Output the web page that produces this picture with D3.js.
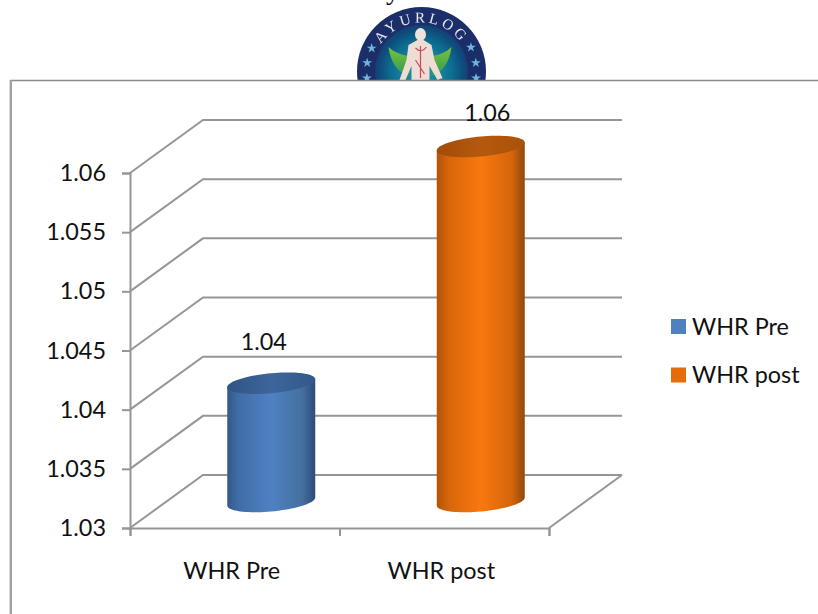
<!DOCTYPE html>
<html>
<head>
<meta charset="utf-8">
<script src="https://cdn.jsdelivr.net/npm/d3@7"></script>
<style>
    html, body { margin: 0; padding: 0; background: #fff; overflow: hidden; }
    svg { display: block; }
    text { font-family: Lato, "Open Sans", sans-serif; fill: #111; }
</style>
</head>
<body>
<div id="chart"></div>
<script>
const categories = ['WHR Pre', 'WHR post'];
const values = [1.04, 1.06];
const valueLabels = ['1.04', '1.06'];
const yTicks = [1.03, 1.035, 1.04, 1.045, 1.05, 1.055, 1.06];
const yTickLabels = ['1.03', '1.035', '1.04', '1.045', '1.05', '1.055', '1.06'];
const seriesColors = ['#4f81bd', '#e46c0a'];
const logoStarAngles = [-155, -171, 173, -26, -9, 7];

const width = 818;
const height = 614;
const gridColor = '#969696';
const fontSize = '23.4px';

const plot = { left: 130, right: 549, top: 173, bottom: 528 };
const depth = { x: 73, y: -53 };

const svg = d3.select('#chart').append('svg')
    .attr('width', width)
    .attr('height', height)
    .attr('viewBox', [0, 0, width, height]);

const defs = svg.append('defs');

const x = d3.scaleBand().domain(categories).range([plot.left, plot.right]);
const y = d3.scaleLinear().domain([1.03, 1.06]).range([plot.bottom, plot.top]);

// Cylinder shading, dark at the edges and bright in the middle
function cylinderGradient(id, stops) {
    const grad = defs.append('linearGradient').attr('id', id);
    stops.forEach(([offset, color]) => {
        grad.append('stop').attr('offset', offset).attr('stop-color', color);
    });
}
cylinderGradient('side-0', [[0, '#33598a'], [0.12, '#3f6ca6'], [0.5, '#4f81c2'], [0.85, '#44709f'], [1, '#2c4d78']]);
cylinderGradient('side-1', [[0, '#b0540a'], [0.14, '#d9660a'], [0.5, '#f9780f'], [0.85, '#d5650c'], [1, '#8f4a0c']]);
cylinderGradient('top-0', [[0, '#2f5584'], [0.5, '#3e659a'], [1, '#33598a']]);
cylinderGradient('top-1', [[0, '#a04c08'], [0.5, '#b5590e'], [1, '#a85208']]);

const logoGrad = defs.append('radialGradient').attr('id', 'logo-inner');
logoGrad.append('stop').attr('offset', 0).attr('stop-color', '#1f9bb0');
logoGrad.append('stop').attr('offset', 0.65).attr('stop-color', '#0f6f92');
logoGrad.append('stop').attr('offset', 1).attr('stop-color', '#123f73');

const leafGrad = defs.append('linearGradient').attr('id', 'logo-leaf')
    .attr('x1', 0).attr('x2', 0).attr('y1', 0).attr('y2', 1);
leafGrad.append('stop').attr('offset', 0).attr('stop-color', '#7cc23a');
leafGrad.append('stop').attr('offset', 1).attr('stop-color', '#2f9a55');

defs.append('clipPath').attr('id', 'logo-clip')
    .append('rect').attr('width', width).attr('height', 80);

defs.append('filter').attr('id', 'logo-soft')
    .append('feGaussianBlur').attr('stdDeviation', 0.45);

// Text cut off above the logo, only the tail shows
svg.append('text')
    .attr('x', 386)
    .attr('y', -1)
    .style('font-family', '"Liberation Serif", serif')
    .style('font-size', '28px')
    .text('y');

// Logo
const logo = svg.append('g').attr('clip-path', 'url(#logo-clip)')
    .append('g').attr('filter', 'url(#logo-soft)');
const logoC = { x: 421.5, y: 71.5 };
logo.append('circle').attr('cx', logoC.x).attr('cy', logoC.y).attr('r', 64.5).attr('fill', '#1d2f6b');
logo.append('circle').attr('cx', logoC.x).attr('cy', logoC.y).attr('r', 46.5).attr('fill', 'url(#logo-inner)');

defs.append('path').attr('id', 'logo-arc')
    .attr('d', `M${logoC.x - 49},${logoC.y}A49,49 0 0,1 ${logoC.x + 49},${logoC.y}`);
logo.append('text')
    .append('textPath')
    .attr('href', '#logo-arc')
    .attr('startOffset', '50%')
    .attr('text-anchor', 'middle')
    .style('font-family', '"Liberation Serif", serif')
    .style('font-size', '15px')
    .style('letter-spacing', '3.4px')
    .style('fill', '#e4e8f0')
    .text('AYURLOG');

logo.selectAll('.star')
    .data(logoStarAngles)
    .join('path')
    .attr('class', 'star')
    .attr('d', d3.symbol(d3.symbolStar, 30))
    .attr('fill', '#6fb8d8')
    .attr('transform', d => {
        const a = d * Math.PI / 180;
        return `translate(${logoC.x + 55 * Math.cos(a)},${logoC.y + 55 * Math.sin(a)})`;
    });

// Leaves either side of the figure
logo.append('path')
    .attr('d', `M${logoC.x - 33},47 C${logoC.x - 31},62 ${logoC.x - 24},73 ${logoC.x - 12},76 L${logoC.x - 12},56 C${logoC.x - 20},55 ${logoC.x - 28},52 ${logoC.x - 33},47Z`)
    .attr('fill', 'url(#logo-leaf)');
logo.append('path')
    .attr('d', `M${logoC.x + 30},47 C${logoC.x + 28},62 ${logoC.x + 21},73 ${logoC.x + 10},76 L${logoC.x + 10},56 C${logoC.x + 18},55 ${logoC.x + 25},52 ${logoC.x + 30},47Z`)
    .attr('fill', 'url(#logo-leaf)');

// Figure
logo.append('ellipse').attr('cx', logoC.x - 1).attr('cy', 34.5).attr('rx', 5.5).attr('ry', 6.5).attr('fill', '#efe3d8');
logo.append('path')
    .attr('d', `M${logoC.x - 4},40 L${logoC.x + 2},40 L${logoC.x + 10},45 L${logoC.x + 13},60 L${logoC.x + 21},78 L${logoC.x + 16},80 L${logoC.x + 8},66 L${logoC.x + 8},80 L${logoC.x - 10},80 L${logoC.x - 10},66 L${logoC.x - 16},80 L${logoC.x - 22},80 L${logoC.x - 15},60 L${logoC.x - 13},45Z`)
    .attr('fill', '#efdcd4');
logo.append('path')
    .attr('d', `M${logoC.x - 1},46 L${logoC.x - 1},78 M${logoC.x - 6},48 Q${logoC.x},54 ${logoC.x + 5},47 M${logoC.x - 6},60 L${logoC.x + 3},74`)
    .attr('stroke', '#c84a58')
    .attr('stroke-width', 1.2)
    .attr('fill', 'none');

// Outer frame, only the top and left edges are in view
svg.append('line')
    .attr('x1', 10).attr('x2', width).attr('y1', 80.5).attr('y2', 80.5)
    .attr('stroke', '#8c8c8c').attr('stroke-width', 1.6);
svg.append('line')
    .attr('x1', 10.8).attr('x2', 10.8).attr('y1', 80).attr('y2', height)
    .attr('stroke', '#a0a0a0').attr('stroke-width', 2.4);

// Walls and floor
const grid = svg.append('g')
    .attr('fill', 'none')
    .attr('stroke', gridColor)
    .attr('stroke-width', 2);

grid.selectAll('path')
    .data(yTicks)
    .join('path')
    .attr('d', d => d3.line()([
        [plot.left, y(d)],
        [plot.left + depth.x, y(d) + depth.y],
        [plot.right + depth.x, y(d) + depth.y]
    ]));

grid.append('path')
    .attr('d', d3.line()([
        [plot.right, plot.bottom],
        [plot.right + depth.x, plot.bottom + depth.y]
    ]));

// Axes
const yAxis = d3.axisLeft(y)
    .tickValues(yTicks)
    .tickFormat((d, i) => yTickLabels[i])
    .tickSize(8)
    .tickPadding(16);

const yAxisG = svg.append('g')
    .attr('transform', `translate(${plot.left},0)`)
    .call(yAxis);

const xBoundaries = [plot.left, x(categories[1]), plot.right];
const xTickScale = d3.scalePoint().domain(xBoundaries).range([plot.left, plot.right]);
const xAxisG = svg.append('g')
    .attr('transform', `translate(0,${plot.bottom})`)
    .call(d3.axisBottom(xTickScale).tickSize(8).tickFormat(''));

[yAxisG, xAxisG].forEach(g => {
    g.selectAll('.domain, .tick line').attr('stroke', gridColor).attr('stroke-width', 2);
});
yAxisG.selectAll('text').style('font-size', fontSize).style('font-family', 'Lato').attr('fill', '#111');

svg.append('g')
    .selectAll('text')
    .data(categories)
    .join('text')
    .attr('x', d => x(d) + x.bandwidth() / 2 - 3)
    .attr('y', 579)
    .attr('text-anchor', 'middle')
    .style('font-size', fontSize)
    .text(d => d);

// Cylinders sit in the middle of the floor depth
const cylW = 44;
const cylDepth = { x: depth.x / 2, y: depth.y / 2 };
const skew = -4;
const flat = 10;
const topAngles = d3.range(0, 2 * Math.PI + 0.01, Math.PI / 40);
const bottomAngles = d3.range(0, Math.PI + 0.01, Math.PI / 40);

function rim(cx, cy, t) {
    return [cx + cylW * Math.cos(t), cy + flat * Math.sin(t) + skew * Math.cos(t)];
}

const cylinders = svg.append('g')
    .selectAll('g')
    .data(values)
    .join('g');

cylinders.append('path')
    .attr('fill', (d, i) => `url(#side-${i})`)
    .attr('d', (d, i) => {
        const cx = x(categories[i]) + x.bandwidth() / 2 + cylDepth.x;
        const top = y(d) + cylDepth.y;
        const bottom = y(1.03) + cylDepth.y;
        const pts = bottomAngles.map(t => rim(cx, bottom, t));
        pts.push(rim(cx, top, Math.PI), rim(cx, top, 0));
        return d3.line()(pts) + 'Z';
    });

cylinders.append('path')
    .attr('fill', (d, i) => `url(#top-${i})`)
    .attr('d', (d, i) => {
        const cx = x(categories[i]) + x.bandwidth() / 2 + cylDepth.x;
        const top = y(d) + cylDepth.y;
        return d3.line()(topAngles.map(t => rim(cx, top, t))) + 'Z';
    });

// Value labels, the second one sits closer to its bar
svg.append('g')
    .selectAll('text')
    .data(values)
    .join('text')
    .attr('x', (d, i) => x(categories[i]) + x.bandwidth() / 2 + (i ? 43 : 29))
    .attr('y', (d, i) => y(d) - (i ? 52 : 60))
    .attr('text-anchor', 'middle')
    .style('font-size', fontSize)
    .text((d, i) => valueLabels[i]);

// Legend
const legendY = d3.scalePoint().domain(categories).range([326.5, 375]);
const legend = svg.append('g')
    .selectAll('g')
    .data(categories)
    .join('g')
    .attr('transform', d => `translate(671,${legendY(d)})`);

legend.append('rect')
    .attr('y', -7.5)
    .attr('width', 15)
    .attr('height', 15)
    .attr('fill', (d, i) => seriesColors[i]);

legend.append('text')
    .attr('x', 21)
    .attr('y', 8)
    .style('font-size', fontSize)
    .text(d => d);
</script>
</body>
</html>
